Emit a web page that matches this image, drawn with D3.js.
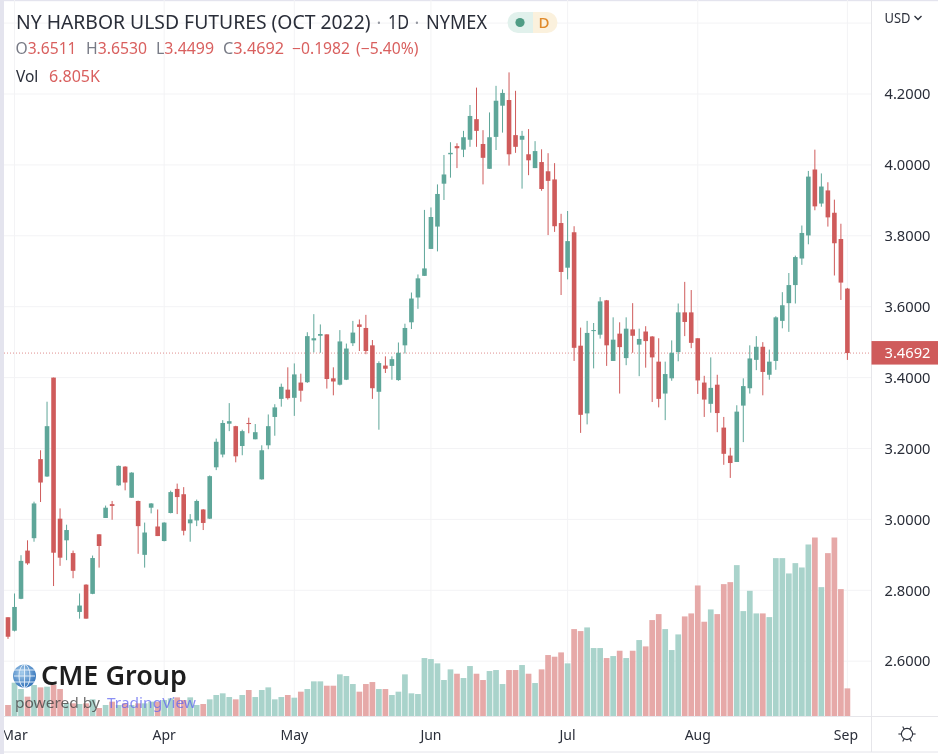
<!DOCTYPE html>
<html><head><meta charset="utf-8">
<script src="https://cdn.jsdelivr.net/npm/d3@7"></script>
<style>html,body{margin:0;padding:0;background:#fff;overflow:hidden}svg{display:block;filter:blur(0.4px)}text{font-family:"Noto Sans",sans-serif}</style>
</head><body><svg id="c" width="938" height="754"></svg>
<script>
const openP=[2.724,2.686,2.776,2.912,2.947,3.170,3.121,3.400,3.002,2.941,
2.905,2.739,2.816,2.790,2.958,3.004,3.043,3.096,3.149,3.061,
3.052,2.900,3.033,2.980,2.939,3.018,3.086,3.071,2.989,2.997,
3.028,3.002,3.147,3.183,3.270,3.263,3.207,3.272,3.226,3.113,
3.209,3.289,3.340,3.366,3.343,3.386,3.387,3.505,3.518,3.522,
3.398,3.380,3.394,3.497,3.550,3.540,3.491,3.360,3.434,3.433,
3.393,3.491,3.556,3.626,3.687,3.763,3.826,3.947,4.030,4.053,
4.043,4.071,4.129,4.059,3.989,4.079,4.167,4.183,4.084,4.071,
4.030,3.991,4.008,3.982,3.959,3.836,3.710,3.810,3.490,3.299,
3.532,3.521,3.618,3.447,3.524,3.455,3.536,3.493,3.530,3.516,
3.445,3.355,3.398,3.472,3.584,3.584,3.511,3.386,3.326,3.380,
3.259,3.180,3.162,3.321,3.370,3.450,3.487,3.408,3.447,3.560,
3.610,3.661,3.736,3.801,3.987,3.891,3.928,3.865,3.791,3.6511];
const highP=[2.724,2.791,2.899,2.941,3.050,3.195,3.332,3.400,3.031,2.985,
2.912,2.791,2.817,2.898,2.958,3.039,3.052,3.152,3.150,3.133,
3.053,2.991,3.046,3.028,2.992,3.081,3.101,3.091,3.015,3.056,
3.029,3.124,3.228,3.280,3.328,3.264,3.253,3.287,3.269,3.209,
3.296,3.325,3.383,3.429,3.440,3.411,3.528,3.579,3.550,3.522,
3.429,3.534,3.496,3.560,3.564,3.577,3.506,3.446,3.460,3.460,
3.499,3.552,3.640,3.691,3.873,3.880,3.945,4.028,4.064,4.061,
4.096,4.169,4.218,4.098,4.148,4.223,4.213,4.261,4.209,4.096,
4.101,4.067,4.044,4.033,4.005,3.862,3.870,3.827,3.541,3.560,
3.554,3.627,3.619,3.570,3.556,3.570,3.610,3.538,3.545,3.517,
3.511,3.445,3.505,3.609,3.670,3.647,3.511,3.405,3.457,3.408,
3.289,3.202,3.322,3.398,3.491,3.517,3.500,3.479,3.573,3.641,
3.695,3.744,3.829,3.983,4.043,3.976,3.951,3.902,3.834,3.6530];
const lowP=[2.663,2.684,2.775,2.872,2.937,3.049,3.120,2.812,2.869,2.885,
2.834,2.720,2.720,2.789,2.864,3.004,2.999,3.095,3.082,3.061,
2.903,2.864,3.017,2.953,2.938,3.017,3.015,2.955,2.937,2.981,
2.970,3.001,3.139,3.175,3.249,3.161,3.181,3.243,3.226,3.112,
3.198,3.236,3.318,3.338,3.292,3.332,3.385,3.471,3.470,3.369,
3.350,3.378,3.393,3.489,3.475,3.466,3.340,3.253,3.413,3.394,
3.391,3.468,3.537,3.594,3.687,3.763,3.756,3.901,3.964,3.991,
4.022,4.051,4.051,3.945,3.989,4.042,4.091,3.998,4.034,3.933,
3.971,3.991,3.927,3.802,3.811,3.633,3.677,3.447,3.244,3.268,
3.426,3.510,3.433,3.447,3.355,3.435,3.470,3.404,3.428,3.331,
3.316,3.280,3.391,3.446,3.517,3.483,3.354,3.289,3.301,3.246,
3.154,3.117,3.162,3.218,3.355,3.421,3.350,3.394,3.422,3.539,
3.529,3.609,3.718,3.776,3.872,3.882,3.826,3.688,3.619,3.4499];
const closeP=[2.669,2.753,2.883,2.876,3.045,3.104,3.263,2.906,2.892,2.970,
2.855,2.757,2.720,2.891,2.925,3.033,3.038,3.151,3.104,3.132,
2.981,2.963,3.045,2.953,2.991,3.077,3.063,2.968,3.000,3.052,
2.990,3.122,3.219,3.272,3.277,3.178,3.249,3.269,3.246,3.195,
3.263,3.316,3.374,3.342,3.409,3.363,3.517,3.511,3.523,3.396,
3.389,3.502,3.482,3.527,3.543,3.475,3.370,3.441,3.425,3.452,
3.470,3.540,3.623,3.680,3.708,3.853,3.918,3.973,4.034,4.047,
4.078,4.138,4.096,4.020,4.078,4.181,4.203,4.030,4.051,4.082,
4.013,4.039,3.932,3.955,3.827,3.698,3.785,3.484,3.295,3.526,
3.534,3.615,3.491,3.507,3.486,3.538,3.518,3.509,3.503,3.457,
3.340,3.410,3.470,3.584,3.557,3.498,3.392,3.338,3.371,3.300,
3.185,3.159,3.304,3.376,3.454,3.487,3.416,3.445,3.570,3.604,
3.661,3.740,3.808,3.967,3.883,3.939,3.852,3.779,3.668,3.4692];
const volumeK=[2.71,8.2,6.64,4.76,7.63,7.05,7.22,7.63,6.64,3.12,
3.12,2.95,3.12,4.1,1.97,2.71,3.53,2.71,3.12,2.71,
3.12,3.12,3.53,3.53,3.94,4.35,4.59,3.94,4.59,2.71,
2.95,4.1,5.17,5.58,4.67,4.1,5.17,6.4,4.67,6.4,
7.05,4.1,4.67,5.17,4.51,5.99,6.64,8.53,8.53,7.46,
7.46,10.25,9.84,7.87,5.99,7.87,8.36,6.64,6.64,5.17,
5.99,10.25,5.58,5.41,14.27,14.02,12.96,8.86,11.48,10.41,
9.35,12.3,10.41,8.86,11.07,11.32,7.87,11.32,11.32,12.55,
10.41,8.12,11.48,15.01,14.6,15.66,12.96,21.4,20.91,21.81,
16.73,16.73,14.27,14.76,16.07,14.27,16.07,18.7,17.14,23.62,
25.09,21.4,16.24,20.09,24.52,25.26,32.14,23.21,26.24,25.09,
32.47,32.96,37.15,25.83,30.83,25.26,25.26,24.35,38.87,38.87,
35.1,37.64,36.57,42.23,43.95,31.73,40.1,43.95,31.24,6.805];
const priceTicks=[2.6,2.8,3.0,3.2,3.4,3.6,3.8,4.0,4.2];
const gridOnly=[4.4];
const monthLabels=["Mar","Apr","May","Jun","Jul","Aug","Sep"];
const monthIndex=[1,24,44,65,86,106,129];
const lastPrice=3.4692;

const svg=d3.select("#c");
const UP="#5ea699",DOWN="#cf5b5b",UPV="#a9d3cb",DOWNV="#e6a9a8";
const x=d3.scaleLinear().domain([0,129]).range([8,847.4]);
const y=d3.scaleLinear().domain([2.6,4.2]).range([661.2,94]);
const v=d3.scaleLinear().domain([0,44]).range([716,537.3]);
const L=4,R=871.5,B=716.5;
const idx=d3.range(openP.length);
const isUp=i=>closeP[i]>=openP[i];

const defs=svg.append("defs");
defs.append("clipPath").attr("id","plot").append("rect").attr("x",L).attr("y",0).attr("width",R-L).attr("height",B);
defs.append("clipPath").attr("id","tclip").append("rect").attr("x",L).attr("y",718).attr("width",R-L).attr("height",33);
const grad=defs.append("radialGradient").attr("id","globe").attr("cx","40%").attr("cy","35%").attr("r","70%");
grad.append("stop").attr("offset","0%").attr("stop-color","#a7cdec");
grad.append("stop").attr("offset","100%").attr("stop-color","#2f70b8");

// frame
svg.append("rect").attr("x",0).attr("y",0).attr("width",L).attr("height",754).attr("fill","#e4e4ee");
svg.append("rect").attr("x",0).attr("y",0).attr("width",938).attr("height",1.2).attr("fill","#e4e4ee");

// grid
const g=svg.append("g").attr("clip-path","url(#plot)");
g.selectAll(".h").data(priceTicks.concat(gridOnly)).join("line").attr("x1",L).attr("x2",R)
 .attr("y1",d=>y(d)).attr("y2",d=>y(d)).attr("stroke","#f3f3f5").attr("stroke-width",1);
g.selectAll(".m").data(monthIndex).join("line").attr("x1",d=>x(d)).attr("x2",d=>x(d))
 .attr("y1",0).attr("y2",B).attr("stroke","#f3f3f5").attr("stroke-width",1);

// volume
g.selectAll(".vol").data(idx).join("rect").attr("x",i=>x(i)-2.85).attr("width",5.7)
 .attr("y",i=>v(volumeK[i])).attr("height",i=>v(0)-v(volumeK[i]))
 .attr("fill",i=>isUp(i)?UPV:DOWNV);

// last price line
g.append("line").attr("x1",L).attr("x2",R).attr("y1",y(lastPrice)).attr("y2",y(lastPrice))
 .attr("stroke","#df8f8e").attr("stroke-width",1).attr("stroke-dasharray","1 2");

// candles
g.selectAll(".wick").data(idx).join("line").attr("x1",i=>x(i)).attr("x2",i=>x(i))
 .attr("y1",i=>y(highP[i])).attr("y2",i=>y(lowP[i]))
 .attr("stroke",i=>isUp(i)?UP:DOWN).attr("stroke-width",1);
g.selectAll(".body").data(idx).join("rect").attr("x",i=>x(i)-2.3).attr("width",4.6)
 .attr("y",i=>y(Math.max(openP[i],closeP[i])))
 .attr("height",i=>Math.max(1,Math.abs(y(openP[i])-y(closeP[i]))))
 .attr("fill",i=>isUp(i)?UP:DOWN);

// axes frame
svg.append("line").attr("x1",R).attr("x2",R).attr("y1",0).attr("y2",752).attr("stroke","#e6e6ea");
svg.append("line").attr("x1",L).attr("x2",938).attr("y1",B).attr("y2",B).attr("stroke","#e6e6ea");
svg.append("line").attr("x1",L).attr("x2",938).attr("y1",752).attr("y2",752).attr("stroke","#e4e4ea");

const fit=(s,w)=>s.attr("textLength",w).attr("lengthAdjust","spacingAndGlyphs");

// price labels
const DARK="#2a2e39";
svg.selectAll(".pl").data(priceTicks).join("text").attr("x",884.5).attr("y",d=>y(d)+5.2)
 .attr("font-size",14.5).attr("fill",DARK).call(fit,46).text(d=>d.toFixed(4));
svg.append("rect").attr("x",R).attr("y",y(lastPrice)-12).attr("width",938-R).attr("height",23.5).attr("fill",DOWN);
svg.append("text").attr("x",884.5).attr("y",y(lastPrice)+5.2).attr("font-size",14.5)
 .attr("fill","#fff").call(fit,46).text(lastPrice.toFixed(4));

// month labels
svg.append("g").attr("clip-path","url(#tclip)").selectAll("text").data(monthLabels).join("text")
 .attr("x",(d,i)=>x(monthIndex[i])-(i==6?1.5:0)).attr("y",740).attr("text-anchor","middle").attr("font-size",14)
 .attr("fill",DARK).text(d=>d);

// USD
svg.append("text").attr("x",884.5).attr("y",22.5).attr("font-size",14).attr("fill",DARK).call(fit,26).text("USD");
svg.append("path").attr("d","M914.5 16 L918 19.5 L921.5 16").attr("fill","none").attr("stroke",DARK).attr("stroke-width",1.3);

// sun icon
const sun=svg.append("g").attr("transform","translate(907,734)").attr("fill","none").attr("stroke",DARK).attr("stroke-width",1.1);
sun.append("circle").attr("r",5.6);
sun.selectAll("line").data(d3.range(6)).join("line")
 .attr("transform",d=>`rotate(${30+d*60})`).attr("y1",-5.6).attr("y2",-8.6);

// legend
const leg=svg.append("g");
leg.append("text").attr("x",16).attr("y",29).attr("font-size",19).attr("fill",DARK).call(fit,354.5).text("NY HARBOR ULSD FUTURES (OCT 2022)");
leg.append("text").attr("x",379).attr("y",29).attr("text-anchor","middle").attr("font-size",18).attr("fill","#9598a1").text("·");
leg.append("text").attr("x",388).attr("y",29).attr("font-size",19).attr("fill",DARK).call(fit,21).text("1D");
leg.append("text").attr("x",417).attr("y",29).attr("text-anchor","middle").attr("font-size",18).attr("fill","#9598a1").text("·");
leg.append("text").attr("x",426).attr("y",29).attr("font-size",19).attr("fill",DARK).call(fit,61).text("NYMEX");
leg.append("path").attr("d","M533 12 H518 A10.5 10.5 0 0 0 518 33 H533 Z").attr("fill","#e1f1ec");
leg.append("path").attr("d","M533 12 H547 A10.5 10.5 0 0 1 547 33 H533 Z").attr("fill","#fbf1dd");
leg.append("circle").attr("cx",520).attr("cy",22.5).attr("r",4.6).attr("fill","#4f9c85");
leg.append("text").attr("x",544).attr("y",28).attr("text-anchor","middle").attr("font-size",15).attr("font-weight",500).attr("fill","#e08a2b").text("D");
const GR="#787b86",RED="#d9605f";
const ohlc=[["O",15.5,61],["H",86,61],["L",156,58],["C",223,61]];
const ohlcVals=[openP[129],highP[129],lowP[129],closeP[129]];
ohlc.forEach((o,i)=>{
  const t=leg.append("text").attr("x",o[1]).attr("y",53.5).attr("font-size",15.5).attr("fill",GR).call(fit,o[2]);
  t.append("tspan").text(o[0]);
  t.append("tspan").attr("fill",RED).text(ohlcVals[i].toFixed(4));
});
leg.append("text").attr("x",292).attr("y",53.5).attr("font-size",15.5).attr("fill",RED).call(fit,58).text("−0.1982");
leg.append("text").attr("x",356).attr("y",53.5).attr("font-size",15.5).attr("fill",RED).call(fit,62.5).text("(−5.40%)");
leg.append("text").attr("x",16).attr("y",82).attr("font-size",15.5).attr("fill",DARK).text("Vol");
leg.append("text").attr("x",49).attr("y",82).attr("font-size",15.5).attr("fill",RED).call(fit,51).text("6.805K");

// watermark
const wm=svg.append("g");
wm.append("circle").attr("cx",24.5).attr("cy",676).attr("r",11.5).attr("fill","url(#globe)");
const wl=wm.append("g").attr("fill","none").attr("stroke","#eaf3fb").attr("stroke-width",0.9);
wl.append("ellipse").attr("cx",24.5).attr("cy",676).attr("rx",5.5).attr("ry",11.5);
wl.append("line").attr("x1",24.5).attr("x2",24.5).attr("y1",664.5).attr("y2",687.5);
[670,676,682].forEach(c=>wl.append("line").attr("x1",14).attr("x2",35).attr("y1",c).attr("y2",c));
wm.append("text").attr("x",41).attr("y",684.5).attr("font-size",27).attr("font-weight",600).attr("fill","#1e1e1e").call(fit,146).text("CME Group");
wm.append("text").attr("x",15).attr("y",707.5).attr("font-size",14).attr("fill","#3c3c3c").attr("fill-opacity",.75).call(fit,85).text("powered by");
wm.append("text").attr("x",107).attr("y",707.5).attr("font-size",14).attr("fill","#5a5ff0").attr("fill-opacity",.7).call(fit,89).text("TradingView");
</script></body></html>
